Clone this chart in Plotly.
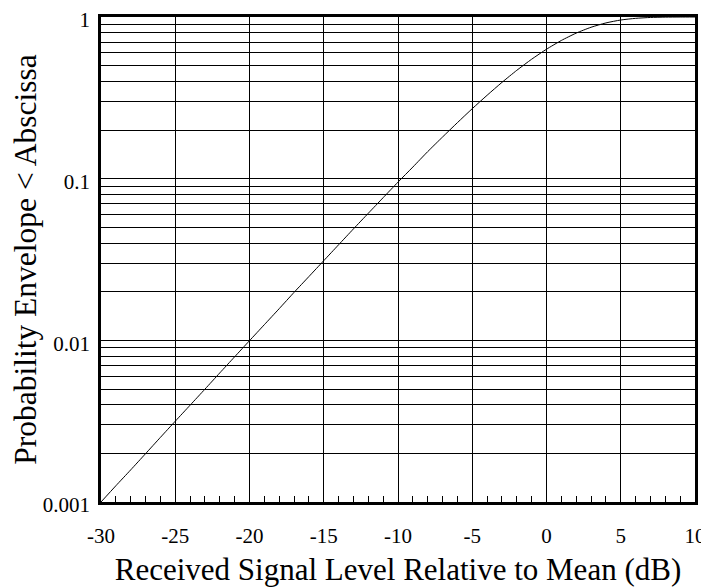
import plotly.graph_objects as go

x_db = [-30, -29, -28, -27, -26, -25, -24, -23, -22, -21, -20, -19, -18, -17, -16,
        -15, -14, -13, -12, -11, -10, -9, -8, -7, -6, -5, -4, -3, -2, -1,
        0, 1, 2, 3, 4, 5, 6, 7, 8, 9, 10]
prob = [0.00100, 0.00126, 0.00158, 0.00199, 0.00251, 0.00316, 0.00397, 0.00499,
        0.00629, 0.00791, 0.00995, 0.0125, 0.0157, 0.0198, 0.0248, 0.0311, 0.0390,
        0.0489, 0.0611, 0.0763, 0.0952, 0.118, 0.147, 0.181, 0.222, 0.271, 0.328,
        0.394, 0.468, 0.548, 0.632, 0.716, 0.795, 0.864, 0.919, 0.958, 0.981,
        0.9933, 0.9982, 0.9996, 0.99995]

x_ticks = [-30, -25, -20, -15, -10, -5, 0, 5, 10]
y_ticks = [0.001, 0.01, 0.1, 1]
y_labels = ["0.001", "0.01", "0.1", "1"]

fig = go.Figure()
fig.add_trace(go.Scatter(x=x_db, y=prob, mode="lines",
                         line=dict(color="black", width=1, shape="spline", smoothing=0.6),
                         showlegend=False, hoverinfo="skip"))

SERIF = "Liberation Serif"
# page body has an 8px default margin; figure size compensates for it
fig.update_layout(
    width=701, height=579,
    margin=dict(l=93, r=14, t=9, b=85, autoexpand=False),
    paper_bgcolor="white", plot_bgcolor="white",
    font=dict(family=SERIF, color="black"),
    xaxis=dict(
        range=[-30, 10], tickvals=x_ticks, ticktext=[str(v) for v in x_ticks],
        automargin=False, ticklabeloverflow="allow",
        showgrid=True, gridcolor="black", gridwidth=1,
        showline=True, linecolor="black", linewidth=2.5, mirror=True,
        ticks="inside", ticklen=6, tickcolor="black", tickwidth=1,
        minor=dict(dtick=1, ticks="inside", ticklen=6, tickcolor="black", showgrid=False),
        tickfont=dict(size=21, family=SERIF, color="black"),
        ticklabelstandoff=13,
        zeroline=False,
        title=dict(text="Received Signal Level Relative to Mean (dB)",
                   font=dict(size=31, family=SERIF, color="black"), standoff=13),
    ),
    yaxis=dict(
        type="log", range=[-3, 0], tickvals=y_ticks, ticktext=y_labels,
        automargin=False, ticklabeloverflow="allow",
        showgrid=True, gridcolor="black", gridwidth=1,
        showline=True, linecolor="black", linewidth=2.5, mirror=True,
        ticks="inside", ticklen=6, tickcolor="black",
        minor=dict(dtick="D1", showgrid=True, gridcolor="black", gridwidth=1,
                   ticks="inside", ticklen=6, tickcolor="black"),
        tickfont=dict(size=21, family=SERIF, color="black"),
        ticklabelstandoff=4, ticklabelshift=3,
        zeroline=False,
        title=dict(text="Probability Envelope < Abscissa",
                   font=dict(size=31.5, family=SERIF, color="black"), standoff=4),
    ),
)

fig.write_html("out.html")
